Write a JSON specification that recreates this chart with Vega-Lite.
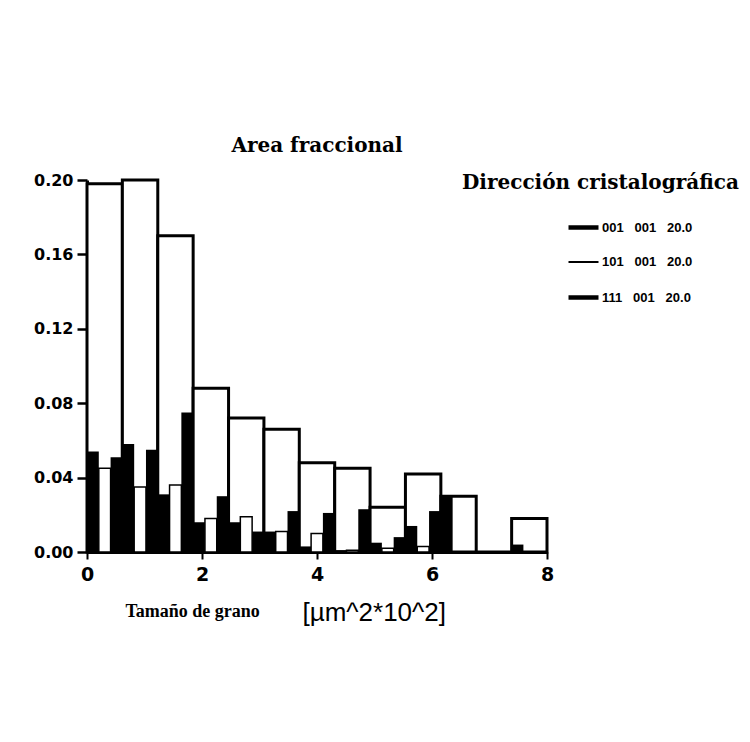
{
  "$schema": "https://vega.github.io/schema/vega-lite/v6.json",
  "width": 460,
  "height": 372,
  "autosize": {"type": "none"},
  "padding": {"left": 87, "top": 180, "right": 203, "bottom": 190},
  "background": "white",
  "config": {
    "view": {"stroke": null},
    "axis": {"grid": false, "domainColor": "black", "tickColor": "black", "labelColor": "black", "titleColor": "black"},
    "legend": {
      "orient": "none",
      "legendX": 375,
      "legendY": -7,
      "padding": 0,
      "titleFont": "DejaVu Serif",
      "titleFontWeight": "bold",
      "titleFontSize": 20,
      "titleColor": "black",
      "titleLimit": 500,
      "titlePadding": 28,
      "symbolType": "stroke",
      "symbolSize": 900,
      "symbolStrokeColor": "black",
      "symbolOffset": 115,
      "labelOffset": 12,
      "labelFont": "Liberation Sans",
      "labelFontWeight": "bold",
      "labelFontSize": 13,
      "labelColor": "black",
      "labelLimit": 300,
      "rowPadding": 18.5
    }
  },
  "title": {
    "text": "Area fraccional",
    "font": "DejaVu Serif",
    "fontSize": 20,
    "fontWeight": "bold",
    "color": "black",
    "anchor": "middle",
    "frame": "group",
    "offset": 16
  },
  "datasets": {
    "totals": [
      {"lo": 0.000, "hi": 0.615, "value": 0.198},
      {"lo": 0.615, "hi": 1.231, "value": 0.200},
      {"lo": 1.231, "hi": 1.846, "value": 0.170},
      {"lo": 1.846, "hi": 2.462, "value": 0.088},
      {"lo": 2.462, "hi": 3.077, "value": 0.072},
      {"lo": 3.077, "hi": 3.692, "value": 0.066},
      {"lo": 3.692, "hi": 4.308, "value": 0.048},
      {"lo": 4.308, "hi": 4.923, "value": 0.045},
      {"lo": 4.923, "hi": 5.538, "value": 0.024},
      {"lo": 5.538, "hi": 6.154, "value": 0.042},
      {"lo": 6.154, "hi": 6.769, "value": 0.030},
      {"lo": 6.769, "hi": 7.385, "value": 0.000},
      {"lo": 7.385, "hi": 8.000, "value": 0.018}
    ],
    "groups": [
      {"bin": 1, "series": "001", "value": 0.054},
      {"bin": 1, "series": "101", "value": 0.045},
      {"bin": 1, "series": "111", "value": 0.051},
      {"bin": 2, "series": "001", "value": 0.058},
      {"bin": 2, "series": "101", "value": 0.035},
      {"bin": 2, "series": "111", "value": 0.055},
      {"bin": 3, "series": "001", "value": 0.031},
      {"bin": 3, "series": "101", "value": 0.036},
      {"bin": 3, "series": "111", "value": 0.075},
      {"bin": 4, "series": "001", "value": 0.016},
      {"bin": 4, "series": "101", "value": 0.018},
      {"bin": 4, "series": "111", "value": 0.030},
      {"bin": 5, "series": "001", "value": 0.016},
      {"bin": 5, "series": "101", "value": 0.019},
      {"bin": 5, "series": "111", "value": 0.011},
      {"bin": 6, "series": "001", "value": 0.011},
      {"bin": 6, "series": "101", "value": 0.011},
      {"bin": 6, "series": "111", "value": 0.022},
      {"bin": 7, "series": "001", "value": 0.003},
      {"bin": 7, "series": "101", "value": 0.010},
      {"bin": 7, "series": "111", "value": 0.021},
      {"bin": 8, "series": "001", "value": 0.001},
      {"bin": 8, "series": "101", "value": 0.001},
      {"bin": 8, "series": "111", "value": 0.023},
      {"bin": 9, "series": "001", "value": 0.005},
      {"bin": 9, "series": "101", "value": 0.002},
      {"bin": 9, "series": "111", "value": 0.008},
      {"bin": 10, "series": "001", "value": 0.014},
      {"bin": 10, "series": "101", "value": 0.003},
      {"bin": 10, "series": "111", "value": 0.022},
      {"bin": 11, "series": "001", "value": 0.030},
      {"bin": 11, "series": "101", "value": 0.000},
      {"bin": 11, "series": "111", "value": 0.000},
      {"bin": 12, "series": "001", "value": 0.000},
      {"bin": 12, "series": "101", "value": 0.000},
      {"bin": 12, "series": "111", "value": 0.000},
      {"bin": 13, "series": "001", "value": 0.004},
      {"bin": 13, "series": "101", "value": 0.000},
      {"bin": 13, "series": "111", "value": 0.000}
    ]
  },
  "layer": [
    {
      "data": {"name": "totals"},
      "mark": {"type": "bar", "fill": "white", "stroke": "black", "strokeWidth": 3},
      "encoding": {
        "x": {
          "field": "lo", "type": "quantitative",
          "scale": {"domain": [0, 8], "nice": false, "zero": false},
          "axis": {
            "orient": "bottom",
            "values": [0, 2, 4, 6, 8],
            "format": "d",
            "labelFlush": false,
            "labelOverlap": false,
            "domainWidth": 3,
            "tickSize": 7,
            "tickWidth": 2,
            "labelFont": "DejaVu Sans",
            "labelFontWeight": "bold",
            "labelFontSize": 19,
            "labelPadding": 6,
            "title": "Tamaño de grano",
            "titleFont": "Liberation Serif",
            "titleFontWeight": "bold",
            "titleFontSize": 18,
            "titleAlign": "left",
            "titleAnchor": null,
            "titleBaseline": "alphabetic",
            "titleX": 38,
            "titleY": 64
          }
        },
        "x2": {"field": "hi"},
        "y": {
          "field": "value", "type": "quantitative",
          "scale": {"domain": [0, 0.2], "nice": false},
          "axis": {
            "values": [0, 0.04, 0.08, 0.12, 0.16, 0.2],
            "format": ".2f",
            "title": null,
            "domainWidth": 3,
            "tickSize": 10,
            "tickWidth": 2.5,
            "labelFont": "DejaVu Sans",
            "labelFontWeight": "bold",
            "labelFontSize": 16,
            "labelPadding": 4
          }
        },
        "y2": {"datum": 0}
      }
    },
    {
      "data": {"name": "groups"},
      "mark": {"type": "bar", "stroke": "black"},
      "encoding": {
        "x": {
          "field": "bin", "type": "ordinal",
          "scale": {"paddingInner": 0, "paddingOuter": 0},
          "axis": {
            "orient": "bottom",
            "labels": false,
            "ticks": false,
            "domain": false,
            "title": "[µm^2*10^2]",
            "titleFont": "Liberation Sans",
            "titleFontWeight": "normal",
            "titleFontSize": 26,
            "titleAlign": "left",
            "titleAnchor": null,
            "titleBaseline": "alphabetic",
            "titleX": 215,
            "titleY": 68
          }
        },
        "xOffset": {
          "field": "series", "type": "nominal",
          "scale": {"paddingInner": 0, "paddingOuter": 0}
        },
        "y": {"field": "value", "type": "quantitative"},
        "fill": {
          "field": "series", "type": "nominal",
          "scale": {"domain": ["001", "101", "111"], "range": ["black", "white", "black"]},
          "legend": {
            "title": "Dirección cristalográfica",
            "labelExpr": "datum.label + '\u00a0\u00a0\u00a0001\u00a0\u00a0\u00a020.0'",
            "encode": {"symbols": {"update": {"stroke": {"value": "black"}, "strokeOpacity": {"value": 1}, "opacity": {"value": 1}, "strokeWidth": {"signal": "datum.value === '101' ? 2 : 4.5"}}}}
          }
        },
        "strokeWidth": {
          "condition": {"test": "datum.series === '101'", "value": 1.5},
          "value": 0
        },
        "strokeOpacity": {
          "condition": {"test": "datum.series === '101'", "value": 1},
          "value": 0
        }
      }
    }
  ],
  "resolve": {"scale": {"x": "independent"}, "axis": {"x": "independent"}}
}
